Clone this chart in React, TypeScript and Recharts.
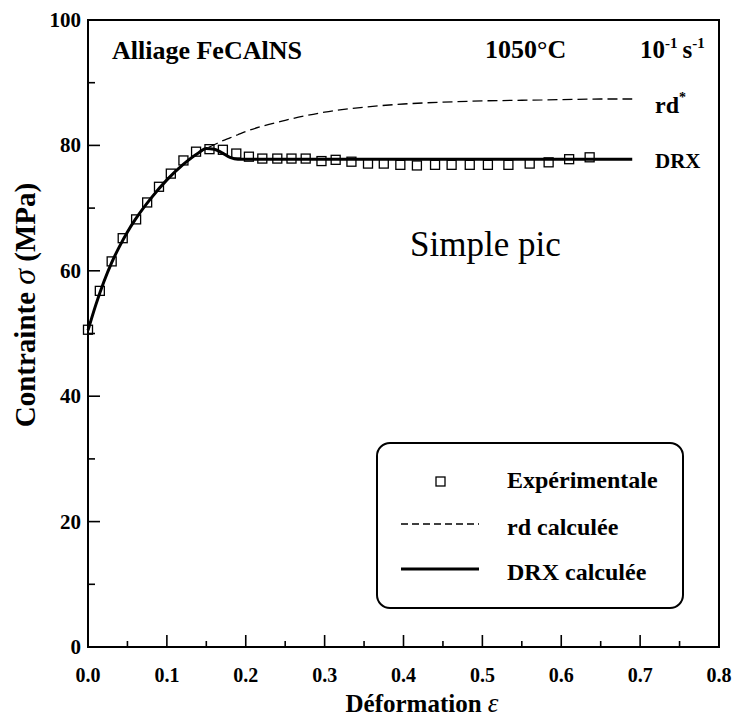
import { ComposedChart, Line, Scatter, XAxis, YAxis, ReferenceArea, Legend } from 'recharts'

// experimental points (strain, stress in MPa)
const expStrain = [0, 0.015, 0.03, 0.044, 0.061, 0.075, 0.09, 0.105, 0.121, 0.137, 0.154, 0.171, 0.188, 0.204, 0.221, 0.24, 0.258, 0.276, 0.296, 0.314, 0.334, 0.355, 0.375, 0.396, 0.417, 0.44, 0.461, 0.484, 0.507, 0.533, 0.56, 0.584, 0.61, 0.636]
const expStress = [50.6, 56.8, 61.5, 65.2, 68.2, 70.9, 73.4, 75.5, 77.6, 79.0, 79.4, 79.3, 78.7, 78.2, 77.9, 77.9, 77.9, 77.9, 77.5, 77.7, 77.4, 77.1, 77.1, 76.9, 76.8, 76.9, 76.9, 76.9, 76.9, 76.9, 77.1, 77.3, 77.8, 78.1]

// calculated curves
const calcStrain = [0, 0.01, 0.02, 0.03, 0.04, 0.05, 0.06, 0.08, 0.1, 0.12, 0.14, 0.15, 0.16, 0.17, 0.18, 0.19, 0.2, 0.25, 0.3, 0.35, 0.4, 0.45, 0.5, 0.55, 0.6, 0.65, 0.69]
const rdStress = [50.5, 54.6, 58.2, 61.3, 63.9, 66.2, 68.2, 71.6, 74.5, 76.9, 78.8, 79.5, 80.1, 80.7, 81.2, 81.7, 82.2, 84.0, 85.3, 86.1, 86.6, 86.9, 87.1, 87.2, 87.3, 87.4, 87.4]
const drxStress = [50.5, 54.6, 58.2, 61.3, 63.9, 66.2, 68.2, 71.6, 74.5, 76.9, 78.8, 79.5, 79.4, 78.8, 78.1, 77.8, 77.8, 77.8, 77.8, 77.8, 77.8, 77.8, 77.8, 77.8, 77.8, 77.8, 77.8]

const xTicks = [0, 0.05, 0.1, 0.15, 0.2, 0.25, 0.3, 0.35, 0.4, 0.45, 0.5, 0.55, 0.6, 0.65, 0.7, 0.75, 0.8]
const yTicks = [0, 10, 20, 30, 40, 50, 60, 70, 80, 90, 100]

const expData = expStrain.map((x, i) => ({ x, y: expStress[i] }))
const rdData = calcStrain.map((x, i) => ({ x, y: rdStress[i] }))
const drxData = calcStrain.map((x, i) => ({ x, y: drxStress[i] }))

const FONT = "'Liberation Serif', 'Times New Roman', Times, serif"
const M = 20

function XTick({ x, y, payload }: any) {
  const v = payload.value
  const major = Math.round(v * 100) % 10 === 0
  const ay = y - M
  return (
    <g>
      <line x1={x} x2={x} y1={ay} y2={ay - (major ? 12 : 6)} stroke="#000" strokeWidth={1.6} />
      {major && (
        <text x={x} y={ay + 35} textAnchor="middle" style={{ fontFamily: FONT, fontWeight: 700 }} fontSize={20} fill="#000">
          {v.toFixed(1)}
        </text>
      )}
    </g>
  )
}

function YTick({ x, y, payload }: any) {
  const v = payload.value
  const major = v % 20 === 0
  const ax = x + M
  return (
    <g>
      <line x1={ax} x2={ax + (major ? 12 : 7)} y1={y} y2={y} stroke="#000" strokeWidth={1.6} />
      {major && (
        <text x={ax - 7} y={y + 7} textAnchor="end" style={{ fontFamily: FONT, fontWeight: 700 }} fontSize={21} fill="#000">
          {v}
        </text>
      )}
    </g>
  )
}

const Square = (p: any) => (
  <rect x={p.cx - 4.5} y={p.cy - 4.5} width={9} height={9} fill="none" stroke="#000" strokeWidth={1.3} />
)

function LegendBox() {
  const txt = { style: { fontFamily: FONT, fontWeight: 700 }, fontSize: 24, fill: '#000' }
  return (
    <svg width={310} height={170} style={{ display: 'block' }}>
      <rect x={1} y={1} width={306} height={165} rx={13} fill="#fff" stroke="#000" strokeWidth={2} />
      <rect x={60} y={35} width={9} height={9} fill="none" stroke="#000" strokeWidth={1.3} />
      <text x={131} y={46} {...txt}>Expérimentale</text>
      <line x1={25} x2={103} y1={82} y2={82} stroke="#000" strokeWidth={1.3} strokeDasharray="7 4" />
      <text x={131} y={93} {...txt}>rd calculée</text>
      <line x1={25} x2={103} y1={127} y2={127} stroke="#000" strokeWidth={3} />
      <text x={131} y={138} {...txt}>DRX calculée</text>
    </svg>
  )
}

export default function App() {
  const bold = { style: { fontFamily: FONT, fontWeight: 700 }, fill: '#000' }
  return (
    <div style={{ position: 'absolute', left: 0, top: 0, width: 736, height: 718, background: '#fff' }}>
      <ComposedChart width={736} height={718} margin={{ top: 20, right: 17, left: 28, bottom: 31 }}>
        <XAxis
          type="number"
          dataKey="x"
          domain={[0, 0.8]}
          ticks={xTicks}
          interval={0}
          height={40}
          tickSize={0}
          tickMargin={M}
          tick={<XTick />}
          tickLine={false}
          axisLine={{ stroke: '#000', strokeWidth: 2 }}
        />
        <YAxis
          type="number"
          dataKey="y"
          domain={[0, 100]}
          ticks={yTicks}
          interval={0}
          width={60}
          tickSize={0}
          tickMargin={M}
          tick={<YTick />}
          tickLine={false}
          axisLine={{ stroke: '#000', strokeWidth: 2 }}
        />
        <ReferenceArea x1={0} x2={0.8} y1={0} y2={100} fill="none" stroke="#000" strokeWidth={2} />
        <Line data={rdData} dataKey="y" type="monotone" stroke="#000" strokeWidth={1.3} strokeDasharray="10 5" dot={false} isAnimationActive={false} legendType="none" />
        <Line data={drxData} dataKey="y" type="monotone" stroke="#000" strokeWidth={3} dot={false} isAnimationActive={false} legendType="none" />
        <Scatter data={expData} dataKey="y" shape={Square} isAnimationActive={false} legendType="none" />
        <Legend
          layout="horizontal"
          verticalAlign="middle"
          align="center"
          content={() => <LegendBox />}
          wrapperStyle={{ position: 'absolute', left: 376, top: 442, width: 310, height: 170 }}
        />
      </ComposedChart>
      <svg width={736} height={718} style={{ position: 'absolute', left: 0, top: 0, pointerEvents: 'none' }}>
        <text x={112} y={59} fontSize={26} {...bold}>Alliage FeCAlNS</text>
        <text x={485} y={58} fontSize={26} {...bold}>1050°C</text>
        <text x={640} y={58} fontSize={25} {...bold}>
          10<tspan fontSize={15} dy={-10}>-1</tspan>
          <tspan fontSize={25} dy={10} dx={5}>s</tspan>
          <tspan fontSize={15} dy={-10}>-1</tspan>
        </text>
        <text x={655} y={113} fontSize={24} {...bold}>
          rd<tspan fontSize={14} dy={-11}>*</tspan>
        </text>
        <text x={655} y={168} fontSize={21} {...bold}>DRX</text>
        <text x={410} y={256} fontSize={35} style={{ fontFamily: FONT }} fill="#000">Simple pic</text>
        <text x={422} y={712} fontSize={25} textAnchor="middle" {...bold}>
          Déformation <tspan fontStyle="italic" style={{ fontWeight: 400 }} fontSize={27}>ε</tspan>
        </text>
        <text x={35} y={305} fontSize={29} textAnchor="middle" transform="rotate(-90 35 305)" {...bold}>
          Contrainte <tspan fontStyle="italic" style={{ fontWeight: 400 }} fontSize={32}>σ</tspan> (MPa)
        </text>
      </svg>
    </div>
  )
}
